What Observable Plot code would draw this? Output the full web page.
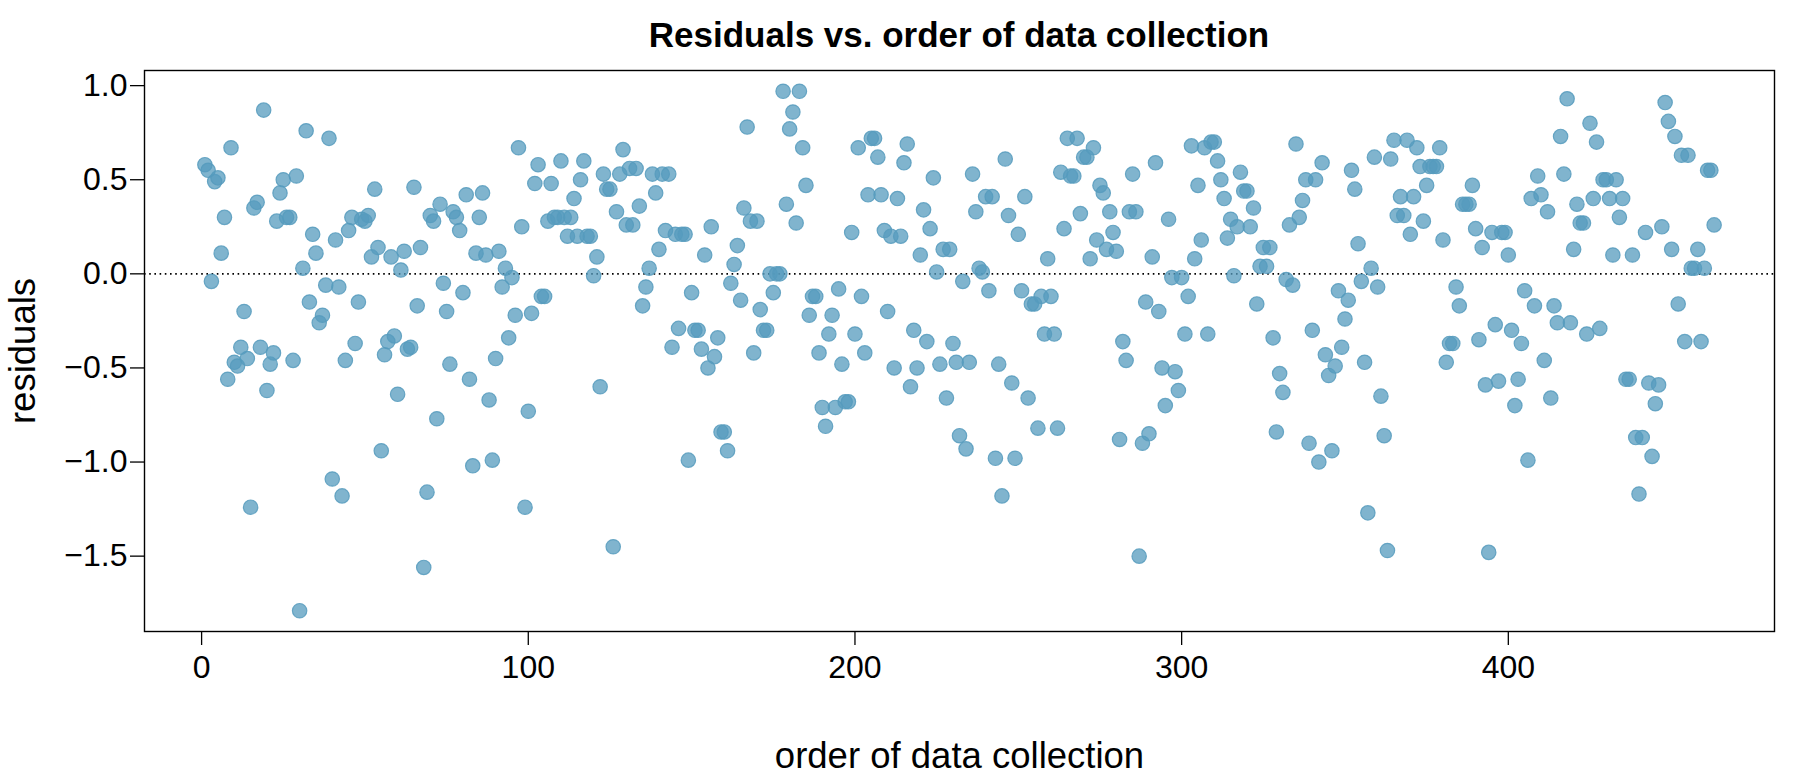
<!DOCTYPE html>
<html><head><meta charset="utf-8">
<script src="https://cdn.jsdelivr.net/npm/d3@7"></script>
<script src="https://cdn.jsdelivr.net/npm/@observablehq/plot@0.6"></script>
<style>
body{margin:0;background:#fff;font-family:"Liberation Sans",Arial,Helvetica,sans-serif;}
#title{width:1800px;height:60px;box-sizing:border-box;padding:17px 26px 0 144px;text-align:center;font-weight:bold;font-size:35px;line-height:36px;color:#000;white-space:nowrap;}
#chart svg{display:block;overflow:visible;}
</style></head><body>
<div id="title">Residuals vs. order of data collection</div>
<div id="chart"></div>
<script>
const residuals = [
 0.58, 0.55, -0.04, 0.49, 0.51, 0.11, 0.30, -0.56, 0.67, -0.47, -0.49, -0.39, -0.20, -0.45, -1.24, 0.35, 0.38, -0.39, 0.87, -0.62,
 -0.48, -0.42, 0.28, 0.43, 0.50, 0.30, 0.30, -0.46, 0.52, -1.79, 0.03, 0.76, -0.15, 0.21, 0.11, -0.26, -0.22, -0.06, 0.72, -1.09,
 0.18, -0.07, -1.18, -0.46, 0.23, 0.30, -0.37, -0.15, 0.29, 0.28, 0.31, 0.09, 0.45, 0.14, -0.94, -0.43, -0.36, 0.09, -0.33, -0.64,
 0.02, 0.12, -0.40, -0.39, 0.46, -0.17, 0.14, -1.56, -1.16, 0.31, 0.28, -0.77, 0.37, -0.05, -0.20, -0.48, 0.33, 0.30, 0.23, -0.10,
 0.42, -0.56, -1.02, 0.11, 0.30, 0.43, 0.10, -0.67, -0.99, -0.45, 0.12, -0.07, 0.03, -0.34, -0.02, -0.22, 0.67, 0.25, -1.24, -0.73,
 -0.21, 0.48, 0.58, -0.12, -0.12, 0.28, 0.48, 0.30, 0.30, 0.60, 0.30, 0.20, 0.30, 0.40, 0.20, 0.50, 0.60, 0.20, 0.20, -0.01,
 0.09, -0.60, 0.53, 0.45, 0.45, -1.45, 0.33, 0.53, 0.66, 0.26, 0.56, 0.26, 0.56, 0.36, -0.17, -0.07, 0.03, 0.53, 0.43, 0.13,
 0.53, 0.23, 0.53, -0.39, 0.21, -0.29, 0.21, 0.21, -0.99, -0.10, -0.30, -0.30, -0.40, 0.10, -0.50, 0.25, -0.44, -0.34, -0.84, -0.84,
 -0.94, -0.05, 0.05, 0.15, -0.14, 0.35, 0.78, 0.28, -0.42, 0.28, -0.19, -0.30, -0.30, 0.00, -0.10, 0.00, 0.00, 0.97, 0.37, 0.77,
 0.86, 0.27, 0.97, 0.67, 0.47, -0.22, -0.12, -0.12, -0.42, -0.71, -0.81, -0.32, -0.22, -0.71, -0.08, -0.48, -0.68, -0.68, 0.22, -0.32,
 0.67, -0.12, -0.42, 0.42, 0.72, 0.72, 0.62, 0.42, 0.23, -0.20, 0.20, -0.50, 0.40, 0.20, 0.59, 0.69, -0.60, -0.30, -0.50, 0.10,
 0.34, -0.36, 0.24, 0.51, 0.01, -0.48, 0.13, -0.66, 0.13, -0.37, -0.47, -0.86, -0.04, -0.93, -0.47, 0.53, 0.33, 0.03, 0.01, 0.41,
 -0.09, 0.41, -0.98, -0.48, -1.18, 0.61, 0.31, -0.58, -0.98, 0.21, -0.09, 0.41, -0.66, -0.16, -0.16, -0.82, -0.12, -0.32, 0.08, -0.12,
 -0.32, -0.82, 0.54, 0.24, 0.72, 0.52, 0.52, 0.72, 0.32, 0.62, 0.62, 0.08, 0.67, 0.18, 0.47, 0.43, 0.13, 0.33, 0.22, 0.12,
 -0.88, -0.36, -0.46, 0.33, 0.53, 0.33, -1.50, -0.90, -0.15, -0.85, 0.09, 0.59, -0.20, -0.50, -0.70, 0.29, -0.02, -0.52, -0.62, -0.02,
 -0.32, -0.12, 0.68, 0.08, 0.47, 0.18, 0.67, -0.32, 0.70, 0.70, 0.60, 0.50, 0.40, 0.19, 0.29, -0.01, 0.25, 0.54, 0.44, 0.44,
 0.25, 0.35, -0.16, 0.04, 0.14, 0.04, 0.14, -0.34, -0.84, -0.53, -0.63, -0.03, 0.26, -0.06, 0.69, 0.30, 0.39, 0.50, -0.90, -0.30,
 0.50, -1.00, 0.59, -0.43, -0.54, -0.94, -0.49, -0.09, -0.39, -0.24, -0.14, 0.55, 0.45, 0.16, -0.04, -0.47, -1.27, 0.03, 0.62, -0.07,
 -0.65, -0.86, -1.47, 0.61, 0.71, 0.31, 0.41, 0.31, 0.71, 0.21, 0.41, 0.67, 0.57, 0.28, 0.47, 0.57, 0.57, 0.57, 0.67, 0.18,
 -0.47, -0.37, -0.37, -0.07, -0.17, 0.37, 0.37, 0.37, 0.47, 0.24, -0.35, 0.14, -0.59, -1.48, 0.22, -0.27, -0.57, 0.22, 0.22, 0.10,
 -0.30, -0.70, -0.56, -0.37, -0.09, -0.99, 0.40, -0.17, 0.52, 0.42, -0.46, 0.33, -0.66, -0.17, -0.26, 0.73, 0.53, 0.93, -0.26, 0.13,
 0.37, 0.27, 0.27, -0.32, 0.80, 0.40, 0.70, -0.29, 0.50, 0.50, 0.40, 0.10, 0.50, 0.30, 0.40, -0.56, -0.56, 0.10, -0.87, -1.17,
 -0.87, 0.22, -0.58, -0.97, -0.69, -0.59, 0.25, 0.91, 0.81, 0.13, 0.73, -0.16, 0.63, -0.36, 0.63, 0.03, 0.03, 0.13, -0.36, 0.03,
 0.55, 0.55, 0.26
];
const xTicks = [0, 100, 200, 300, 400];
const yTicks = [-1.5, -1.0, -0.5, 0.0, 0.5, 1.0];
const xLabel = "order of data collection";
const yLabel = "residuals";

const data = residuals.map((r, i) => ({order: i + 1, residual: r}));
function padR(ext) { const s = (ext[1] - ext[0]) * 0.04; return [ext[0] - s, ext[1] + s]; }
const font = '"Liberation Sans", Arial, Helvetica, sans-serif';

const chart = Plot.plot({
  width: 1800, height: 713,
  marginTop: 10, marginBottom: 142, marginLeft: 144, marginRight: 26,
  style: {fontFamily: font, fontSize: "32px", color: "#000", background: "#fff", overflow: "visible"},
  x: {domain: padR(d3.extent(data, d => d.order))},
  y: {domain: padR(d3.extent(data, d => d.residual))},
  marks: [
    Plot.ruleY([0], {stroke: "#000", strokeDasharray: "1.6,3.6", strokeWidth: 1.6}),
    Plot.dot(data, {x: "order", y: "residual", r: 7.2, fill: "#569BBD", fillOpacity: 0.75,
      stroke: "#569BBD", strokeOpacity: 0.85, strokeWidth: 1.2}),
    Plot.frame({stroke: "#000", strokeWidth: 1.4}),
    Plot.axisX({ticks: xTicks, tickSize: 14, tickPadding: 10, label: null, tickFormat: d => String(d), fontSize: 32, strokeWidth: 1.3}),
    Plot.axisY({ticks: yTicks, tickSize: 14, tickPadding: 3, label: null, tickFormat: d3.format(".1f"), fontSize: 32, strokeWidth: 1.3}),
    Plot.text([xLabel], {frameAnchor: "bottom", dy: 125, text: d => d, fontSize: 36.5, textAnchor: "middle", lineAnchor: "middle"}),
    Plot.text([yLabel], {frameAnchor: "left", dx: -121, rotate: -90, text: d => d, fontSize: 36.5, textAnchor: "middle", lineAnchor: "middle"})
  ]
});
document.getElementById("chart").appendChild(chart);
</script>
</body></html>
